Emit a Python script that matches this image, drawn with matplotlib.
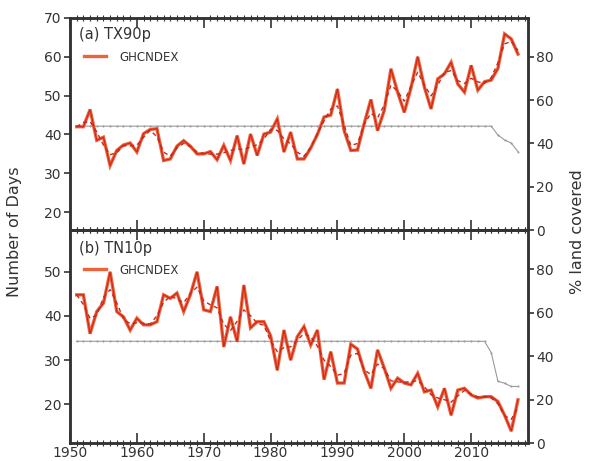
import numpy as np
import matplotlib
matplotlib.use("Agg")
import matplotlib.pyplot as plt
from matplotlib.ticker import MultipleLocator

years = list(range(1951, 2018))

tx90p = [42, 42, 46.4, 38.5, 39.3, 32, 35.9, 37.3, 37.8, 35.5,
         40.2, 41.3, 41.5, 33.3, 33.7, 37, 38.4, 37, 35, 35,
         35.6, 33.5, 37.2, 33.3, 39.7, 32.4, 40.1, 34.6, 40.1, 40.6,
         44, 35.5, 40.6, 33.7, 33.7, 36.5, 40, 44.5, 45, 51.7,
         41, 35.9, 36, 42.8, 49, 41, 46.2, 56.9, 50.9, 45.7,
         52, 60, 52.2, 46.6, 54.3, 55.6, 58.6, 53, 50.9, 57.8,
         51.4, 53.6, 54, 57, 65.9, 64.6, 60.7]

tn10p = [44.8, 44.8, 36, 41, 42.9, 50, 41, 39.8, 36.8, 39.5,
         38, 38, 38.7, 44.8, 44, 45.2, 41, 44.8, 50, 41.4,
         41, 46.7, 33, 39.8, 34.2, 47, 37.3, 38.7, 38.7, 35.5,
         27.7, 36.8, 30, 35.3, 37.6, 33.4, 36.8, 25.6, 31.9, 24.8,
         24.8, 33.6, 32.5, 27.5, 23.6, 32.3, 28.2, 23.6, 25.9, 24.8,
         24.4, 27, 22.8, 23.2, 19.4, 23.6, 17.5, 23.2, 23.6, 22.1,
         21.4, 21.7, 21.7, 20.6, 17.5, 13.9, 21]

cover_a = [48.0] * 62 + [48.0, 43.9, 41.6, 40.2, 36.2]
cover_b = [46.8] * 62 + [41.6, 28.4, 27.5, 26.0, 26.0]

panel_titles = ["(a) TX90p", "(b) TN10p"]
series_label = "GHCNDEX"
left_ticks = [[20, 30, 40, 50, 60, 70], [20, 30, 40, 50]]
right_ticks = [0, 20, 40, 60, 80]
x_ticks = [1950, 1960, 1970, 1980, 1990, 2000, 2010]


def smooth(v):
    v = np.asarray(v, float)
    p = np.concatenate([[v[0]], v, [v[-1]]])
    return (p[:-2] + 2 * p[1:-1] + p[2:]) / 4.0


W, H = 589, 461
fig = plt.figure(figsize=(W / 100, H / 100), dpi=100)
plt.rcParams['font.family'] = ['DejaVu Sans']

L, R = 70 / W, 528 / W
axes_specs = [
    (1 - 230 / H, (230 - 18) / H, (15.4, 70), tx90p, cover_a, 0.92, 0.816),
    (1 - 443 / H, (443 - 230) / H, (11.2, 59.5), tn10p, cover_b, 0.915, 0.812),
]
txt = '#333333'
orange = '#F0623A'
dark = '#C8281C'

for i, (bottom, height, ylim, vals, cov, ty, ly) in enumerate(axes_specs):
    ax = fig.add_axes([L, bottom, R - L, height])
    ax2 = ax.twinx()
    ax.set_zorder(ax2.get_zorder() + 1)
    ax.patch.set_visible(False)

    ax2.plot(years, cov, color='#9a9a9a', lw=0.8, marker='.', ms=1.0)
    ax2.set_ylim(0, 98)
    ax2.set_yticks(right_ticks)

    ax.plot(years, vals, color=orange, lw=2.4, solid_joinstyle='miter',
            label=series_label)
    ax.plot(years, vals, color=dark, lw=0.8)
    ax.plot(years, smooth(vals), color=dark, lw=1.0, ls=(0, (3, 2.5)))

    ax.set_xlim(1950, 2018.5)
    ax.set_ylim(*ylim)
    ax.set_yticks(left_ticks[i])
    ax.set_xticks(x_ticks)
    ax.xaxis.set_minor_locator(MultipleLocator(1))

    for a in (ax, ax2):
        for s in a.spines.values():
            s.set_linewidth(1.8)
            s.set_color('#333333')
    ax.tick_params(axis='x', which='major', direction='in', length=7,
                   width=1.2, top=True, bottom=True, colors=txt,
                   labelsize=10, pad=2)
    ax.tick_params(axis='x', which='minor', direction='inout', length=4,
                   width=0.8, top=True, bottom=True, colors=txt)
    ax.tick_params(axis='y', direction='out', length=4, width=1.2,
                   colors=txt, labelsize=10, pad=2)
    ax2.tick_params(axis='y', direction='out', length=4, width=1.2,
                    colors=txt, labelsize=10, pad=2)
    if i == 0:
        ax.tick_params(axis='x', labelbottom=False)

    ax.text(0.019, ty, panel_titles[i], transform=ax.transAxes,
            fontsize=10.5, color=txt, va='center')
    leg = ax.legend(loc='center left', bbox_to_anchor=(0.031, ly),
                    frameon=False, fontsize=8.5, handlelength=1.85,
                    handletextpad=1.1, borderaxespad=0, borderpad=0)
    for t in leg.get_texts():
        t.set_color(txt)

fig.text(15 / W, 1 - 232 / H, "Number of Days", rotation=90, fontsize=11.5,
         color=txt, ha='center', va='center')
fig.text(577 / W, 1 - 232 / H, "% land covered", rotation=90, fontsize=11.5,
         color=txt, ha='center', va='center')

fig.savefig("out.png", dpi=100)
